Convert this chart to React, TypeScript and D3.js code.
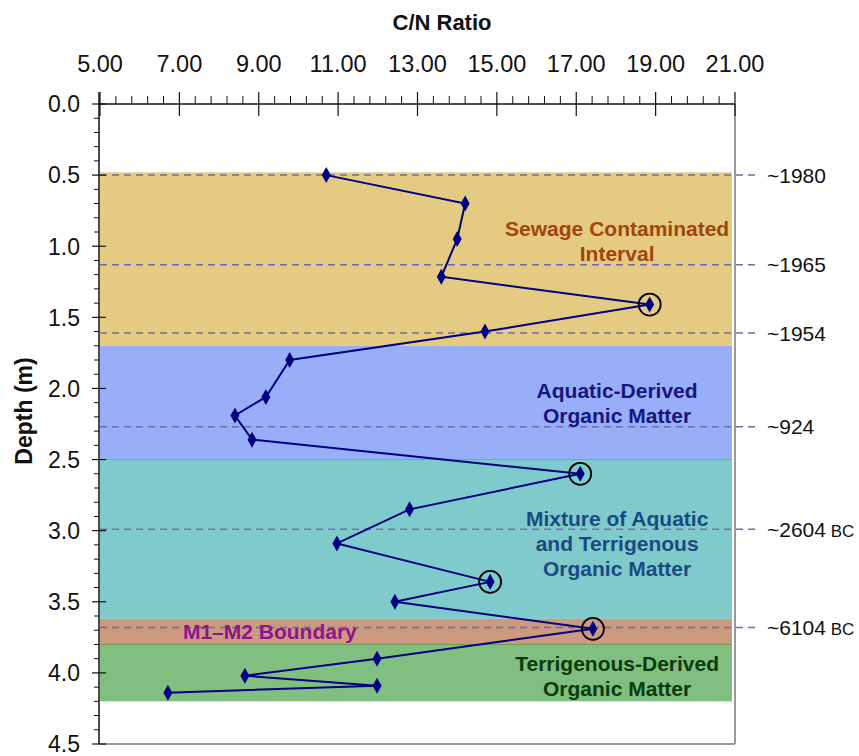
import React from "react";
import * as d3 from "d3";

const cnRatio = [10.7, 14.2, 14.0, 13.6, 18.85, 14.7, 9.78, 9.18, 8.4, 8.83, 17.1, 12.8, 10.97, 14.83, 12.43, 17.42, 11.98, 8.65, 11.98, 6.71];
const depth = [0.5, 0.7, 0.95, 1.215, 1.41, 1.6, 1.8, 2.06, 2.19, 2.36, 2.6, 2.85, 3.09, 3.36, 3.5, 3.69, 3.9, 4.02, 4.09, 4.14];
const circled = [4, 10, 13, 15];

const bandNames = ["Sewage", "Aquatic", "Mixture", "Boundary", "Terrigenous"];
const bandTop = [0.48, 1.7, 2.5, 3.62, 3.8];
const bandBottom = [1.7, 2.5, 3.62, 3.8, 4.2];
const bandColors = ["#E5CB82", "#99AEF8", "#7FCBCB", "#CB9A80", "#80BF80"];

const ageDepth = [0.5, 1.13, 1.61, 2.27, 2.99, 3.68];
const ageLabel = ["~1980", "~1965", "~1954", "~924", "~2604", "~6104"];
const ageBC = [false, false, false, false, true, true];

const xTicks = [5, 7, 9, 11, 13, 15, 17, 19, 21];
const yTicks = [0, 0.5, 1, 1.5, 2, 2.5, 3, 3.5, 4, 4.5];

const annotations = [
  { lines: ["Sewage Contaminated", "Interval"], cx: 18.03, d: 0.928, color: "#A3440C", anchor: "middle" },
  { lines: ["Aquatic-Derived", "Organic Matter"], cx: 18.03, d: 2.067, color: "#16167E", anchor: "middle" },
  { lines: ["Mixture of Aquatic", "and Terrigenous", "Organic Matter"], cx: 18.03, d: 2.968, color: "#1B4A82", anchor: "middle" },
  { lines: ["M1\u2013M2 Boundary"], cx: 7.09, d: 3.76, color: "#8E1490", anchor: "start" },
  { lines: ["Terrigenous-Derived", "Organic Matter"], cx: 18.03, d: 3.99, color: "#0B3B0B", anchor: "middle" },
];

export default function App() {
  const W = 859, H = 756;
  const left = 100, right = 735, top = 104, bottom = 744;
  const x = d3.scaleLinear().domain([5, 21]).range([left, right]);
  const y = d3.scaleLinear().domain([0, 4.5]).range([top, bottom]);
  const font = "'Liberation Sans', Arial, sans-serif";
  const pts = cnRatio.map((v, i) => [x(v), y(depth[i])] as [number, number]);
  const line = d3.line()(pts) || "";
  const xMinor = d3.range(5, 21.0001, 0.4).filter((v) => Math.abs((v - 5) / 2 - Math.round((v - 5) / 2)) > 0.01);
  const yMinor = d3.range(0, 4.5001, 0.1).filter((v) => Math.abs(v * 2 - Math.round(v * 2)) > 0.01);
  const diamond = "M0,-8L4.5,0L0,8L-4.5,0Z";
  const lh = 25;

  return (
    <svg width={W} height={H} style={{ position: "absolute", left: 0, top: 0, background: "#fff" }} fontFamily={font}>
      {bandNames.map((n, i) => (
        <rect key={n} x={left} y={y(bandTop[i])} width={right - 3 - left} height={y(bandBottom[i]) - y(bandTop[i])} fill={bandColors[i]} />
      ))}
      <line x1={left} x2={right - 3} y1={y(2.5)} y2={y(2.5)} stroke="#5AAFC8" strokeWidth={1} />
      <line x1={left} x2={right - 3} y1={y(3.8)} y2={y(3.8)} stroke="#6E9A50" strokeWidth={1} />
      <line x1={right} x2={right} y1={top} y2={bottom} stroke="#999" strokeWidth={2} />
      <line x1={left} x2={right} y1={bottom} y2={bottom} stroke="#999" strokeWidth={2} />
      {ageDepth.map((d, i) => (
        <line key={i} x1={left} x2={756} y1={y(d)} y2={y(d)} stroke="#6E6EA2" strokeWidth={1.5} strokeDasharray="7,5" />
      ))}
      {ageDepth.map((d, i) => (
        <text key={"a" + i} x={767} y={y(d)} dy="0.36em" fontSize={21} fill="#111">
          {ageLabel[i]}
          {ageBC[i] ? <tspan fontSize={17}> BC</tspan> : null}
        </text>
      ))}
      {annotations.map((a, i) => (
        <text key={"t" + i} y={y(a.d)} textAnchor={a.anchor} fontSize={21} fontWeight="bold" fill={a.color}>
          {a.lines.map((l, j) => (
            <tspan key={j} x={x(a.cx)} dy={j === 0 ? 0 : lh}>{l}</tspan>
          ))}
        </text>
      ))}
      <path d={line} fill="none" stroke="#000080" strokeWidth={2} />
      {pts.map((p, i) => (
        <path key={"m" + i} d={diamond} transform={`translate(${p[0]},${p[1]})`} fill="#000080" />
      ))}
      {circled.map((i) => (
        <circle key={"c" + i} cx={pts[i][0]} cy={pts[i][1]} r={11} fill="none" stroke="#000" strokeWidth={1.8} />
      ))}
      <line x1={left - 2} x2={right} y1={top} y2={top} stroke="#111" strokeWidth={1.5} />
      {xTicks.map((t) => (
        <g key={"xt" + t}>
          <line x1={x(t)} x2={x(t)} y1={top - 12} y2={top + 12} stroke="#111" strokeWidth={1.2} />
          <text x={x(t)} y={72} textAnchor="middle" fontSize={23.5} fill="#111">{t.toFixed(2)}</text>
        </g>
      ))}
      {xMinor.map((t, i) => (
        <line key={"xm" + i} x1={x(t)} x2={x(t)} y1={top - 8} y2={top} stroke="#111" strokeWidth={1} />
      ))}
      <text x={442} y={30} textAnchor="middle" fontSize={22} fontWeight="bold" fill="#111">C/N Ratio</text>
      <line x1={left - 1} x2={left - 1} y1={top - 12} y2={bottom} stroke="#111" strokeWidth={1.5} />
      {yTicks.map((t) => (
        <g key={"yt" + t}>
          <line x1={left - 8} x2={left + 6} y1={y(t)} y2={y(t)} stroke="#111" strokeWidth={1.2} />
          <text x={80} y={y(t)} dy="0.36em" textAnchor="end" fontSize={23} fill="#111">{t.toFixed(1)}</text>
        </g>
      ))}
      {yMinor.map((t, i) => (
        <line key={"ym" + i} x1={left - 6} x2={left - 1} y1={y(t)} y2={y(t)} stroke="#111" strokeWidth={1} />
      ))}
      <text transform={`translate(32,411) rotate(-90)`} textAnchor="middle" fontSize={23} fontWeight="bold" fill="#111">Depth (m)</text>
    </svg>
  );
}
